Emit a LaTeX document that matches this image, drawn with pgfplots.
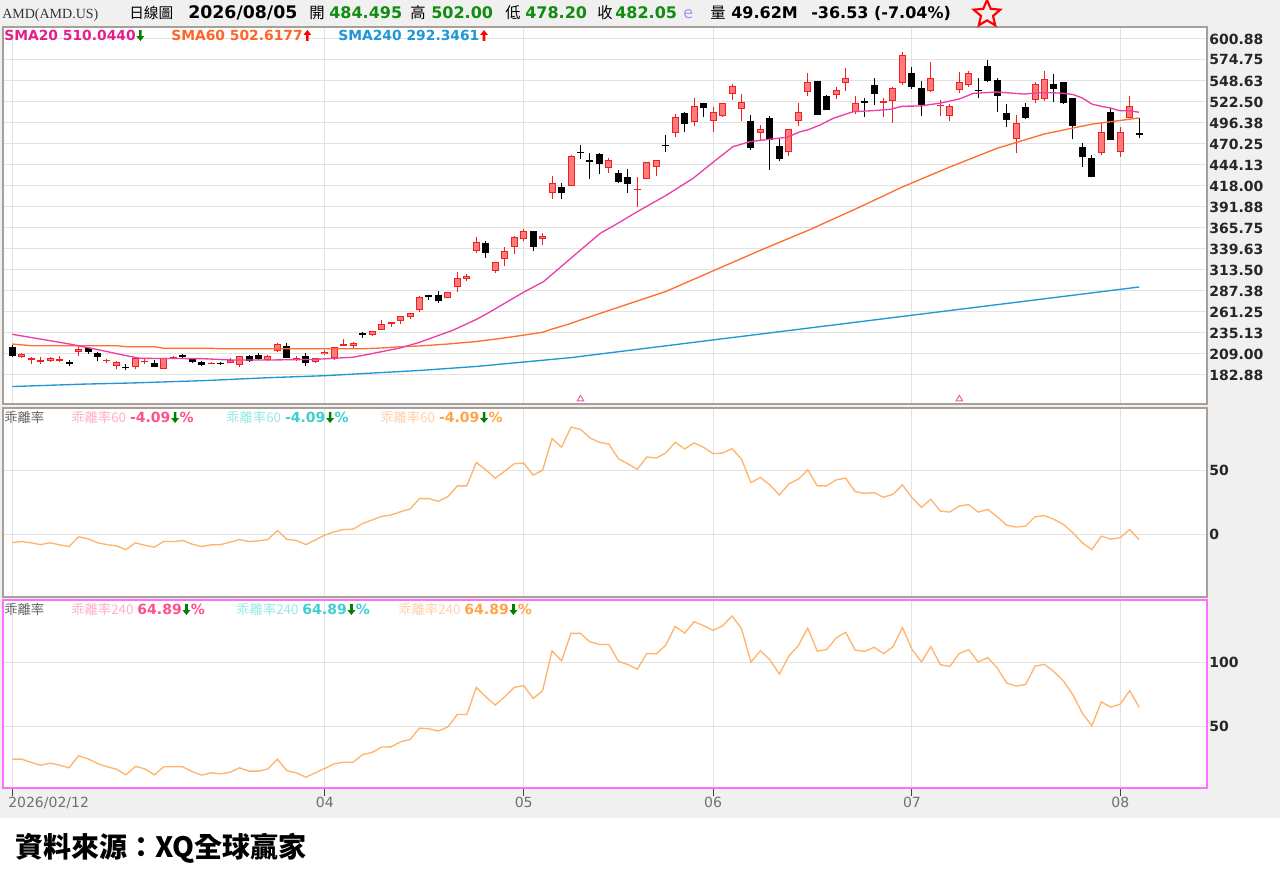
\documentclass[border=0pt]{standalone}
\usepackage{fontspec}
\setmainfont{DejaVu Sans}
\newfontfamily\cjk{Noto Sans CJK TC}
\newfontfamily\serifL{Liberation Serif}
\usepackage{pgfplots}
\pgfplotsset{compat=1.18}
\usepackage{pgfplotstable}
\usetikzlibrary{shapes.geometric}

\definecolor{bgGray}{RGB}{240,240,240}
\definecolor{gridc}{RGB}{226,226,226}
\definecolor{frameC}{RGB}{168,160,152}
\definecolor{magFrame}{RGB}{255,110,255}
\definecolor{candR}{RGB}{240,32,32}
\definecolor{candF}{RGB}{255,122,122}
\definecolor{smaA}{RGB}{236,64,168}
\definecolor{smaB}{RGB}{255,110,48}
\definecolor{smaC}{RGB}{32,150,214}
\definecolor{txtA}{RGB}{230,30,140}
\definecolor{txtB}{RGB}{255,100,40}
\definecolor{txtC}{RGB}{30,150,215}
\definecolor{upG}{RGB}{0,128,0}
\definecolor{numG}{RGB}{16,140,16}
\definecolor{biasC}{RGB}{255,180,110}
\definecolor{fadeP}{RGB}{255,176,200}
\definecolor{valP}{RGB}{255,80,140}
\definecolor{fadeC}{RGB}{150,232,232}
\definecolor{valC}{RGB}{60,208,208}
\definecolor{fadeO}{RGB}{255,208,170}
\definecolor{valO}{RGB}{255,164,70}
\definecolor{lav}{RGB}{176,144,240}
\definecolor{dateC}{RGB}{112,112,112}
\definecolor{caretC}{RGB}{240,90,170}

% x = trading-day index, o h l c
\pgfplotstableread{
x o h l c
1 205 210 204 209
2 202 205.6 196.2 204
3 199.5 205.6 196.2 201.5
4 200.3 205.6 199 204.4
5 200.2 206 199.5 202.2
7 211.5 219 206.5 214.8
10 199.8 203 197.5 201.8
11 194.4 200 190 199.4
13 193.2 203.6 190 203.6
14 198.5 203.5 196 200.5
16 189.9 204.4 189.9 204.4
17 203.4 207 203 205.4
21 196.4 199 196 198.2
23 197.4 203.6 197.4 201.5
24 195.3 206.5 193.2 206.5
27 201.5 207.3 200.7 206.5
28 212.4 223 212 221.4
30 202.6 206.5 200 204.6
32 198.7 204.4 198 204.4
33 208.6 213.5 207.8 211.9
34 203.6 218.1 201 218.1
35 219.2 227.5 218.5 221.2
36 219.3 223.5 215 222.3
38 232.6 237.6 232 237.6
39 238.9 251.3 238.9 246.3
40 245.9 248.4 243 248.4
41 250.5 256.3 246.5 256.3
42 254.7 259.6 252.5 259.6
43 263.7 281.5 261.2 279.5
46 278.3 285.7 278.3 285.7
47 292 311.4 286.5 303.9
48 302.3 309 299.5 306.4
49 337.1 354.2 334.3 348.3
51 312.3 323.8 309.5 323.8
52 327.2 341.5 318.5 337.5
53 342.5 355.5 333 354.9
54 351.6 364 349 362
56 351.6 359.5 345 355.8
57 408.9 430.5 401.4 421.3
59 418.4 456 418 455.4
63 440 453.2 434.5 450.3
66 412.8 428.8 392.2 414.8
67 427.1 447.5 427.1 447.5
68 441.2 450.7 430.8 450.3
70 484.4 507.3 479.4 503.5
72 498.1 527.2 493.1 518
74 499.4 516.8 485.7 509.8
75 505.5 521.5 504 520.9
76 533 545.4 524.7 542.1
77 513.9 532.6 499.4 523
79 483.8 494.2 475.5 489.2
82 460.6 489.2 455.9 488.3
83 499 521.7 493.1 510.6
84 535.1 558.7 530.5 547.1
87 531.6 541.6 526.3 537.8
88 546.2 564.5 535.9 552.4
89 509.8 529.7 507.7 521
92 521.3 527.6 503.5 523.3
93 523.5 541.6 496.5 540
94 546.1 584.3 544.1 581.3
97 536.6 572.7 534.6 552.4
98 517 525.1 504.8 519
99 505.6 520 499 518
100 536.8 559.5 534 547.6
101 544.1 561.6 540.9 558.7
106 476.5 506.3 458.7 496
108 525 547.7 521.6 544.5
109 525.8 561.4 524.1 551.1
115 458.7 498 456.6 484.8
117 460.7 491 454.4 484.8
118 502.2 530 502.2 517.9
}\redtab

\pgfplotstableread{
x o h l c
0 218 220 205.5 207
6 198.7 201 194.5 196.5
8 216.8 218 209.5 211.1
9 209.9 211 200 204.9
12 193 196 189 191
15 197.4 202 192.5 193.2
18 207.8 209 203 205.8
19 203.6 204.6 197.5 198.7
20 199.4 200.5 193.5 195.3
22 198.4 199.5 195.5 196.4
25 206.5 207.5 199.4 200.7
26 208.1 210.2 201.9 202.8
29 219 223 203.5 204.4
31 206.5 210 194 197.4
37 235 236.4 229.3 233
44 282.2 283 276.5 280.2
45 282.4 287.4 272.8 275.3
50 347.5 350 328.9 334.3
55 362 362.5 337.5 341.8
58 416.4 422.1 401.4 408.9
60 460.5 469 451 458.5
61 450.1 459.1 426.7 448.1
62 457.5 459.5 432.5 445
64 434.5 438.5 421.5 423.3
65 428.8 438.8 409.7 420.5
69 469.4 481.7 460.9 467.4
71 508.5 509.8 485.7 495.2
73 520.9 521.7 503.5 514.7
78 499.4 506.5 463 465.4
80 502.4 504.5 438.2 475.4
81 468 476.7 448.5 451.9
85 548.3 549 506.9 506.9
86 530.4 531 512 512.6
90 523.4 527.6 504.3 521.4
91 544.1 552 518.8 532.6
95 558.2 565.7 538.7 540.8
96 539.6 548.3 505.6 518.8
102 537.6 552.4 527.1 535.6
103 567 575.2 547.1 548
104 550 552 509.5 529.5
105 509.2 519.6 491.8 500.1
107 516.6 521.6 501 502.2
110 544.5 557.3 522.9 538.3
111 547 547.7 519.6 520.9
112 527.1 527.9 476.1 493
113 466.9 471.9 442 454.4
114 452.4 456.6 428.8 428.8
116 510.4 515.3 475.2 475.2
119 484.495 502 478.2 482.05
}\blktab

\pgfplotsset{
  panel/.style={
    scale only axis, width=903pt, xmin=-0.98, xmax=126.16,
    axis background/.style={fill=white},
    axis line style={draw=frameC, line width=1.1pt},
    xtick={0,33,54,74,95,117}, xticklabels={},
    xmajorgrids, ymajorgrids, grid style={draw=gridc, line width=0.75pt},
    major tick length=0pt,
    yticklabel pos=right,
    yticklabel style={font=\fontsize{10.5}{12}\selectfont\bfseries, inner sep=0pt, xshift=1.5pt, anchor=west, text=black!85},
  },
  wickbar/.style={draw=none, mark=none, forget plot, error bars/.cd, y dir=plus, y explicit, error mark=none, error bar style={line width=0.75pt, draw=#1, solid}},
  bodybar/.style 2 args={draw=none, mark=none, forget plot, error bars/.cd, y dir=plus, y explicit, error mark=none, error bar style={line width=#1, draw=#2, solid}},
}

\newcommand\dnA{\hspace{0.6pt}\tikz[baseline=0pt, x=1pt, y=1pt]\fill[upG] (1.9,8.2) -- (3.9,8.2) -- (3.9,3.6) -- (5.8,3.6) -- (2.9,0) -- (0,3.6) -- (1.9,3.6) -- cycle;}
\newcommand\upA{\hspace{0.6pt}\tikz[baseline=0pt, x=1pt, y=1pt]\fill[red] (1.9,0) -- (3.9,0) -- (3.9,4.6) -- (5.8,4.6) -- (2.9,8.2) -- (0,4.6) -- (1.9,4.6) -- cycle;}
\newcommand\biasgrp[4]{{\cjk\fontsize{10}{12}\selectfont\color{#1}#3}\hspace{3pt}{\fontsize{10.5}{12}\selectfont\bfseries\color{#2}#4\dnA\hspace{0.5pt}\%}}

\begin{document}
\begin{tikzpicture}
\useasboundingbox (0,0) rectangle (960pt,654.75pt);
\begin{scope}[x=0.75pt,y=0.75pt]
\fill[white] (0,0) rectangle (1280,873);
\fill[bgGray] (0,55) rectangle (1280,873);
\end{scope}

% ---------------- main price panel
\begin{axis}[panel, at={(2.25pt,351.75pt)}, anchor=south west, height=282.75pt,
  ymin=146.8, ymax=615.8,
  ytick={182.88,209.00,235.13,261.25,287.38,313.50,339.63,365.75,391.88,418.00,444.13,470.25,496.38,522.50,548.63,574.75,600.88},
  yticklabels={182.88,209.00,235.13,261.25,287.38,313.50,339.63,365.75,391.88,418.00,444.13,470.25,496.38,522.50,548.63,574.75,600.88}]
\addplot[wickbar=black] table[x=x, y=l, y error expr=\thisrow{h}-\thisrow{l}] {\blktab};
\addplot[wickbar=candR] table[x=x, y=l, y error expr=\thisrow{h}-\thisrow{l}] {\redtab};
\addplot[bodybar={5.25pt}{black}] table[x=x, y=c, y error expr=\thisrow{o}-\thisrow{c}] {\blktab};
\addplot[bodybar={5.25pt}{candR}] table[x=x, y=o, y error expr=\thisrow{c}-\thisrow{o}] {\redtab};
\addplot[bodybar={3.75pt}{candF}] table[x=x, y expr=\thisrow{o}+1.25, y error expr={max(\thisrow{c}-\thisrow{o}-2.5,0)}] {\redtab};
\addplot[smaC, line width=1pt, mark=none] coordinates {(0,168.5) (7.5,171.5) (12.8,173) (20.5,176) (27,179.5) (33,182) (43,188.5) (49,193.5) (54,199) (59,204.5) (119,292.35)};
\addplot[smaB, line width=1pt, mark=none] coordinates {(0,221.4) (2,219.3) (11,219.3) (12,218.1) (15,218.1) (16,216.1) (21,216.1) (22,215.5) (37,215.5) (39,216.5) (41,218) (43,219) (46,221.4) (49,224.5) (52,229) (54,232.5) (56,236) (57,240) (58,243.5) (59,247.1) (60,251.3) (64,267.1) (69,286.7) (74,312.4) (79,338.0) (84,362.6) (89,389.1) (94,416.8) (99,441.6) (104,464.9) (109,482.8) (114,494.9) (119,502.6)};
\addplot[smaA, line width=1pt, mark=none] coordinates {(0,233.5) (3,227.5) (6,221.5) (9,214.5) (12,207) (13.5,203.6) (16,203.4) (20,203.2) (23,201.6) (27,201.5) (32,202.3) (34,203.6) (36,205) (38,209.5) (41,216.6) (43,223.5) (44,227.8) (46.6,238.9) (49,252) (50.1,259) (54,285.9) (56.1,299) (59.6,334.3) (62.1,359.2) (64,372) (66.3,388.1) (69,406) (71.9,427.6) (74,447.5) (76.1,466.9) (77.9,473.1) (80,476.2) (81.8,478.6) (83.2,485.5) (84,487.8) (85.3,493.9) (86.7,502.2) (88.8,510.4) (90.9,511.7) (92.7,513.4) (94,517.2) (95.8,517.5) (97.9,520.9) (100,526.2) (101.5,533.3) (104,534.9) (106.8,532.4) (108.5,534) (110,533.9) (111,533.3) (112,531.8) (113,527.5) (114,519.9) (115,517.1) (116,514.9) (117,511.5) (118,511.5) (119,509.7)};
\addplot[only marks, mark=triangle, mark size=2.8pt, mark options={draw=caretC, line width=0.7pt, fill=none}] coordinates {(60,153) (100,153)};
\end{axis}

% ---------------- bias 60 panel
\begin{axis}[panel, at={(2.25pt,207pt)}, anchor=south west, height=141.75pt,
  ymin=-48.8, ymax=98.8, ytick={0,50}, yticklabels={0,50}]
\addplot[biasC, line width=1pt, mark=none] coordinates {(0,-6.3) (1,-5.5) (2,-6.5) (3,-7.9) (4,-6.5) (5,-8.1) (6,-9.4) (7,-1.8) (8,-3.4) (9,-6.5) (10,-7.9) (11,-8.9) (12,-11.8) (13,-6.5) (14,-8.4) (15,-9.9) (16,-5.5) (17,-5.5) (18,-4.7) (19,-7.6) (20,-9.4) (21,-8.1) (22,-7.9) (23,-6.0) (24,-3.9) (25,-5.5) (26,-5.0) (27,-3.9) (28,3.1) (29,-3.7) (30,-4.7) (31,-7.9) (32,-4.2) (33,-0.5) (34,2.1) (35,3.9) (36,4.2) (37,8.6) (38,11.3) (39,14.1) (40,15.2) (41,17.8) (42,19.9) (43,28.0) (44,28.0) (45,25.9) (46,29.6) (47,38.0) (48,38.0) (49,56.3) (50,50.5) (51,44.0) (52,49.5) (53,55.2) (54,55.8) (55,46.3) (56,50.3) (57,74.9) (58,68.1) (59,83.8) (60,82.2) (61,75.4) (62,72.0) (63,70.7) (64,59.2) (65,55.2) (66,51.0) (67,60.5) (68,59.7) (69,63.6) (70,72.0) (71,66.8) (72,71.5) (73,68.1) (74,63.1) (75,63.6) (76,67.0) (77,58.9) (78,40.6) (79,44.5) (80,38.7) (81,30.9) (82,39.5) (83,43.2) (84,50.5) (85,38.0) (86,38.0) (87,42.7) (88,44.0) (89,33.5) (90,32.2) (91,32.7) (92,29.1) (93,31.4) (94,38.7) (95,28.8) (96,21.2) (97,27.5) (98,18.3) (99,17.5) (100,22.3) (101,23.3) (102,17.5) (103,19.6) (104,13.9) (105,7.3) (106,5.8) (107,6.5) (108,13.9) (109,14.7) (110,11.8) (111,7.9) (112,1.3) (113,-6.5) (114,-11.8) (115,-1.3) (116,-3.7) (117,-2.4) (118,3.9) (119,-4.1)};
\end{axis}

% ---------------- bias 240 panel
\begin{axis}[panel, at={(2.25pt,63.75pt)}, anchor=south west, height=141pt,
  ymin=1.95, ymax=148.8, ytick={50,100}, yticklabels={50,100},
  axis line style={draw=magFrame, line width=1.5pt},
  xticklabels={\makebox[0pt][l]{\kern-3pt 2026/02/12},04,05,06,07,08},
  xtick pos=left, xtick align=outside, major tick length=6pt,
  ytick style={draw=none}, xtick style={draw=black!75, line width=0.75pt},
  xticklabel style={font=\fontsize{10.5}{12}\selectfont, text=dateC, inner sep=0pt, yshift=-1pt}]
\addplot[biasC, line width=1pt, mark=none] coordinates {(0,24.5) (1,24.5) (2,21.9) (3,19.8) (4,21.4) (5,19.8) (6,17.7) (7,27.1) (8,24.7) (9,21.1) (10,18.5) (11,16.7) (12,12.2) (13,18.8) (14,16.9) (15,12.2) (16,18.5) (17,18.5) (18,18.5) (19,14.8) (20,12.0) (21,13.8) (22,13.0) (23,14.3) (24,17.7) (25,15.1) (26,15.1) (27,16.9) (28,24.5) (29,15.4) (30,13.8) (31,10.4) (32,13.8) (33,17.2) (34,20.8) (35,22.1) (36,22.1) (37,28.1) (38,29.7) (39,33.9) (40,34.1) (41,38.0) (42,39.8) (43,48.7) (44,48.2) (45,46.4) (46,49.7) (47,59.4) (48,59.4) (49,80.5) (50,73.2) (51,66.7) (52,73.2) (53,80.5) (54,82.0) (55,71.9) (56,77.9) (57,109.1) (58,101.3) (59,122.7) (60,122.7) (61,116.1) (62,114.1) (63,114.1) (64,101.0) (65,98.4) (66,94.8) (67,107.0) (68,106.8) (69,113.4) (70,128.2) (71,123.0) (72,131.8) (73,128.8) (74,125.1) (75,128.6) (76,136.3) (77,126.5) (78,100.3) (79,109.2) (80,102.1) (81,90.9) (82,105.0) (83,113.1) (84,126.9) (85,108.9) (86,110.1) (87,119.1) (88,123.6) (89,109.7) (90,108.6) (91,111.9) (92,106.9) (93,112.3) (94,127.3) (95,110.3) (96,100.5) (97,112.4) (98,98.3) (99,96.9) (100,107.0) (101,110.0) (102,100.3) (103,103.8) (104,95.8) (105,84.0) (106,81.5) (107,82.8) (108,97.1) (109,98.5) (110,92.8) (111,85.6) (112,74.8) (113,60.2) (114,50.5) (115,69.2) (116,65.1) (117,67.5) (118,78.0) (119,64.9)};
\end{axis}

\begin{scope}[x=0.75pt,y=0.75pt]
% header
\node[anchor=base west, inner sep=0, text=black!80] at (2,854) {\serifL\fontsize{10.5}{13}\selectfont AMD(AMD.US)};
\node[anchor=base west, inner sep=0] at (129,854) {\cjk\fontsize{11}{13}\selectfont 日線圖};
\node[anchor=base west, inner sep=0] at (188,854) {\fontsize{13}{15}\selectfont\bfseries 2026/08/05};
\node[anchor=base west, inner sep=0] at (309,854) {\cjk\fontsize{11.5}{13}\selectfont 開};
\node[anchor=base west, inner sep=0] at (329,854) {\fontsize{12}{14}\selectfont\bfseries\color{numG}484.495};
\node[anchor=base west, inner sep=0] at (410,854) {\cjk\fontsize{11.5}{13}\selectfont 高};
\node[anchor=base west, inner sep=0] at (431,854) {\fontsize{12}{14}\selectfont\bfseries\color{numG}502.00};
\node[anchor=base west, inner sep=0] at (505,854) {\cjk\fontsize{11.5}{13}\selectfont 低};
\node[anchor=base west, inner sep=0] at (525,854) {\fontsize{12}{14}\selectfont\bfseries\color{numG}478.20};
\node[anchor=base west, inner sep=0] at (597,854) {\cjk\fontsize{11.5}{13}\selectfont 收};
\node[anchor=base west, inner sep=0] at (615,854) {\fontsize{12}{14}\selectfont\bfseries\color{numG}482.05};
\node[anchor=base west, inner sep=0] at (683,854) {\fontsize{12}{14}\selectfont\color{lav}e};
\node[anchor=base west, inner sep=0] at (710,854) {\cjk\fontsize{11.5}{13}\selectfont 量};
\node[anchor=base west, inner sep=0] at (731,854) {\fontsize{12}{14}\selectfont\bfseries 49.62M};
\node[anchor=base west, inner sep=0] at (811,854) {\fontsize{12}{14}\selectfont\bfseries -36.53 (-7.04\%)};
\node[star, star points=5, star point ratio=2.2, draw=red, line width=1.6pt, minimum size=21pt, inner sep=0pt] at (987,859) {};
% main legend
\node[anchor=base west, inner sep=0] at (4,832) {\fontsize{10.4}{12}\selectfont\bfseries\color{txtA}SMA20 510.0440\dnA};
\node[anchor=base west, inner sep=0] at (171,832) {\fontsize{10.4}{12}\selectfont\bfseries\color{txtB}SMA60 502.6177\upA};
\node[anchor=base west, inner sep=0] at (338,832) {\fontsize{10.4}{12}\selectfont\bfseries\color{txtC}SMA240 292.3461\upA};
% bias 60 legend
\node[anchor=base west, inner sep=0] at (4,450) {\cjk\fontsize{10}{12}\selectfont\color{black!60}乖離率};
\node[anchor=base west, inner sep=0] at (71,450) {\biasgrp{fadeP}{valP}{乖離率60}{-4.09}};
\node[anchor=base west, inner sep=0] at (226,450) {\biasgrp{fadeC}{valC}{乖離率60}{-4.09}};
\node[anchor=base west, inner sep=0] at (380,450) {\biasgrp{fadeO}{valO}{乖離率60}{-4.09}};
% bias 240 legend
\node[anchor=base west, inner sep=0] at (4,258) {\cjk\fontsize{10}{12}\selectfont\color{black!60}乖離率};
\node[anchor=base west, inner sep=0] at (71,258) {\biasgrp{fadeP}{valP}{乖離率240}{64.89}};
\node[anchor=base west, inner sep=0] at (236,258) {\biasgrp{fadeC}{valC}{乖離率240}{64.89}};
\node[anchor=base west, inner sep=0] at (398,258) {\biasgrp{fadeO}{valO}{乖離率240}{64.89}};
% footer
\node[anchor=west, inner sep=0] at (15,25) {\cjk\bfseries\fontsize{21}{24}\selectfont 資料來源：XQ全球贏家};
\end{scope}
\end{tikzpicture}
\end{document}
